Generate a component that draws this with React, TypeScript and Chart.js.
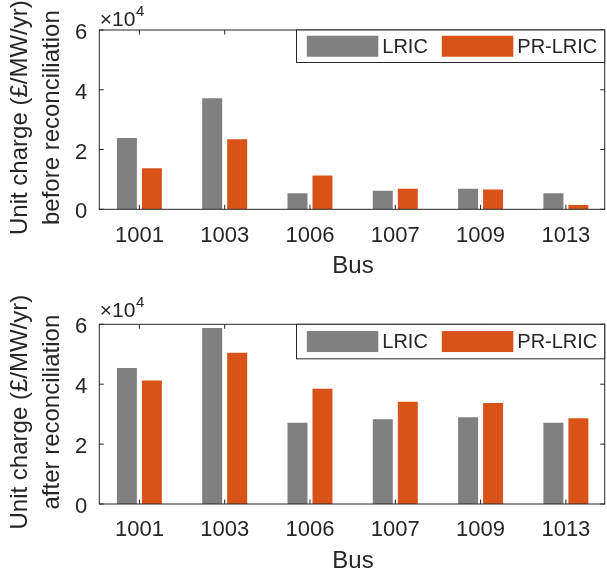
import React, { useEffect, useRef } from 'react';
import { Chart, registerables } from 'chart.js';

Chart.register(...registerables);

// ---------------- data ----------------
const categories = ['1001', '1003', '1006', '1007', '1009', '1013'];
const seriesNames = ['LRIC', 'PR-LRIC'];
const lricBefore = [23900, 37200, 5400, 6200, 6900, 5400];
const prBefore = [13700, 23400, 11300, 6900, 6600, 1400];
const lricAfter = [45400, 58800, 27100, 28300, 29000, 27100];
const prAfter = [41200, 50500, 38500, 34100, 33700, 28600];
const yTickValues = [0, 20000, 40000, 60000];
const yTitleLine1 = 'Unit charge (£/MW/yr)';
const yTitleBefore = 'before reconciliation';
const yTitleAfter = 'after reconciliation';
const xTitle = 'Bus';

// ---------------- style ----------------
const FONT = "'Liberation Sans', Arial, Helvetica, sans-serif";
const TEXT = '#262626';
const AXIS = '#262626';
const C_LRIC = '#808080';
const C_PR = '#D95319';
const W = 607;
const H = 288;

type Geo = {
  top: number;
  bottom: number;
  left: number;
  right: number;
  legendH: number;
  expoGap: number;
};

const matlabPlugin = {
  id: 'matlabDecor',
  afterDraw(chart: any, _args: any, opts: any) {
    const ctx: CanvasRenderingContext2D = chart.ctx;
    const { left, right, top, bottom } = chart.chartArea;
    const xs = chart.scales.x;
    const ys = chart.scales.y;
    const geo: Geo = opts.geo;
    ctx.save();
    // box
    ctx.strokeStyle = AXIS;
    ctx.lineWidth = 1;
    ctx.strokeRect(left, top, right - left, bottom - top);
    // ticks (inward, both sides)
    const tl = 4.5;
    ctx.beginPath();
    xs.ticks.forEach((t: any) => {
      const px = xs.getPixelForValue(t.value);
      ctx.moveTo(px, bottom);
      ctx.lineTo(px, bottom - tl);
      ctx.moveTo(px, top);
      ctx.lineTo(px, top + tl);
    });
    ys.ticks.forEach((t: any) => {
      const py = ys.getPixelForValue(t.value);
      ctx.moveTo(left, py);
      ctx.lineTo(left + tl, py);
      ctx.moveTo(right, py);
      ctx.lineTo(right - tl, py);
    });
    ctx.stroke();

    // exponent label
    ctx.fillStyle = TEXT;
    ctx.textAlign = 'left';
    ctx.textBaseline = 'alphabetic';
    ctx.font = `21px ${FONT}`;
    const base = top - geo.expoGap;
    ctx.fillText('\u00d710', left + 0.5, base);
    const w = ctx.measureText('\u00d710').width;
    ctx.font = `15px ${FONT}`;
    ctx.fillText('4', left + 0.5 + w + 0.5, base - 10.5);

    // legend
    const lx = 296.5;
    const lw = right - lx;
    ctx.fillStyle = '#ffffff';
    ctx.fillRect(lx, top, lw, geo.legendH);
    ctx.strokeStyle = AXIS;
    ctx.strokeRect(lx, top, lw, geo.legendH);
    const sw = 71.5;
    const sh = 21;
    const sy = top + (geo.legendH - sh) / 2;
    const items = chart.data.datasets.map((d: any) => ({ label: d.label, color: d.backgroundColor }));
    const swX = [306.8, 441.8];
    ctx.font = `20px ${FONT}`;
    ctx.textBaseline = 'middle';
    items.forEach((it: any, i: number) => {
      ctx.fillStyle = it.color;
      ctx.fillRect(swX[i], sy, sw, sh);
      ctx.fillStyle = TEXT;
      ctx.fillText(it.label, swX[i] + sw + 4, sy + sh / 2 + 1);
    });

    // y title (two lines, rotated)
    ctx.font = `24px ${FONT}`;
    ctx.fillStyle = TEXT;
    ctx.textAlign = 'center';
    ctx.textBaseline = 'alphabetic';
    ctx.save();
    ctx.translate(0, (top + bottom) / 2 - 2);
    ctx.rotate(-Math.PI / 2);
    const lines: string[] = opts.yTitle;
    ctx.fillText(lines[0], 0, 27.3);
    ctx.fillText(lines[1], 0, 59.3);
    ctx.restore();

    // x title
    ctx.textAlign = 'center';
    ctx.textBaseline = 'alphabetic';
    ctx.font = `24px ${FONT}`;
    ctx.fillText(opts.xTitle, (left + right) / 2 + 1, bottom + 64);
    ctx.restore();
  },
};

function makeConfig(lric: number[], pr: number[], line2: string, geo: Geo): any {
  const tickFont = { family: FONT, size: 22 };
  return {
    type: 'bar',
    data: {
      datasets: [
        {
          label: seriesNames[0],
          data: lric.map((v, i) => ({ x: i + 1, y: v })),
          backgroundColor: C_LRIC,
          borderWidth: 0,
          barPercentage: 0.8,
          categoryPercentage: 0.586,
        },
        {
          label: seriesNames[1],
          data: pr.map((v, i) => ({ x: i + 1, y: v })),
          backgroundColor: C_PR,
          borderWidth: 0,
          barPercentage: 0.8,
          categoryPercentage: 0.586,
        },
      ],
    },
    options: {
      responsive: false,
      animation: false,
      devicePixelRatio: 1,
      layout: { padding: { top: geo.top, left: 0, right: W - geo.right, bottom: 0 } },
      plugins: {
        legend: { display: false },
        tooltip: { enabled: false },
        title: { display: false },
        matlabDecor: { geo, yTitle: [yTitleLine1, line2], xTitle },
      },
      scales: {
        x: {
          type: 'linear',
          min: 0.53,
          max: 6.455,
          offset: false,
          grid: { display: false, drawTicks: false },
          border: { display: false },
          afterBuildTicks: (s: any) => {
            s.ticks = categories.map((_, i) => ({ value: i + 1 }));
          },
          ticks: {
            callback: (v: number) => categories[Math.round(v) - 1] ?? '',
            font: tickFont,
            color: TEXT,
            padding: 13,
            maxRotation: 0,
            autoSkip: false,
          },
          afterFit: (s: any) => {
            s.height = H - geo.bottom;
          },
        },
        y: {
          type: 'linear',
          min: 0,
          max: 60000,
          grid: { display: false, drawTicks: false },
          border: { display: false },
          afterBuildTicks: (s: any) => {
            s.ticks = yTickValues.map((v) => ({ value: v }));
          },
          ticks: {
            callback: (v: number) => String(Math.round(v / 10000)),
            font: tickFont,
            color: TEXT,
            padding: 12,
            labelOffset: 3,
          },
          afterFit: (s: any) => {
            s.width = geo.left;
          },
        },
      },
    },
    plugins: [matlabPlugin],
  };
}

function Panel(props: { lric: number[]; pr: number[]; line2: string; geo: Geo }) {
  const ref = useRef<HTMLCanvasElement>(null);
  useEffect(() => {
    const chart = new Chart(ref.current as HTMLCanvasElement, makeConfig(props.lric, props.pr, props.line2, props.geo));
    return () => chart.destroy();
  }, []);
  return <canvas ref={ref} width={W} height={H} style={{ display: 'block', width: W, height: H }} />;
}

const geoTop: Geo = { top: 30, bottom: 209.3, left: 99.3, right: 604.7, legendH: 32.5, expoGap: 4 };
const geoBottom: Geo = { top: 36.3, bottom: 216, left: 99.3, right: 604.7, legendH: 34.5, expoGap: 7 };

export default function App() {
  return (
    <div style={{ position: 'absolute', left: 0, top: 0, width: W, height: 576, background: '#ffffff' }}>
      <Panel lric={lricBefore} pr={prBefore} line2={yTitleBefore} geo={geoTop} />
      <Panel lric={lricAfter} pr={prAfter} line2={yTitleAfter} geo={geoBottom} />
    </div>
  );
}
